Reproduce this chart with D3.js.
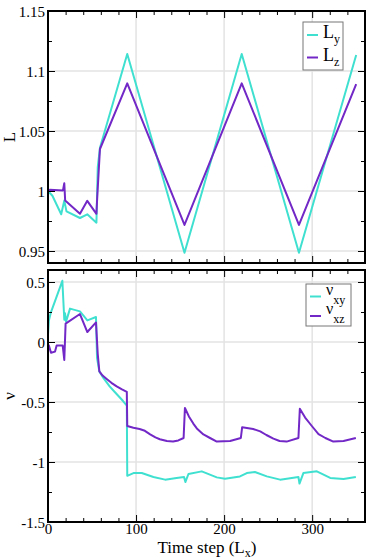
<!DOCTYPE html>
<html><head><meta charset="utf-8">
<script src="https://cdn.jsdelivr.net/npm/d3@7"></script>
<style>
html,body{margin:0;padding:0;background:#fff;}
svg{display:block;font-family:"Liberation Serif","Times New Roman",serif;}
</style></head>
<body><svg id="c" width="374" height="559"></svg>
<script>
// ---- data ----
const LyT  = [0,5,15,18.5,21,36.3,44.6,55,56.5,59,90,155,220,285,350];
const LyV  = [1.0,0.996,0.9806,0.992,0.983,0.9775,0.9806,0.9736,1.02,1.036,1.1142,0.9486,1.1142,0.9486,1.1133];
const LzT  = [0,2,17,18.5,19.5,36.3,44.6,55,56,59,90,155,220,285,350];
const LzV  = [1.0,1.001,1.0005,1.0065,0.992,0.981,0.9918,0.981,0.996,1.035,1.0897,0.9717,1.0897,0.9717,1.089];

const nuXYT = [0,1,3,16.3,18.5,19.3,20.5,25,36.3,44.7,54.5,55.7,58.3,62,66,70,75,80,85,89.5,90,97,106.5,119.7,133,146,154.5,156,159.5,174.6,191.7,201,218,225.8,235,248.5,263.6,284.4,285.6,290,305.3,320.5,335.6,349.6];
const nuXYV = [0.06,0.18,0.24,0.51,0.186,0.24,0.17,0.278,0.255,0.18,0.208,-0.133,-0.245,-0.29,-0.33,-0.37,-0.41,-0.45,-0.49,-0.53,-1.115,-1.092,-1.092,-1.125,-1.147,-1.133,-1.125,-1.167,-1.10,-1.078,-1.128,-1.14,-1.12,-1.092,-1.083,-1.12,-1.147,-1.125,-1.18,-1.092,-1.078,-1.133,-1.142,-1.125];
const nuXZT = [0,1,3.4,8,9.8,16.7,18.5,20,36.3,44.7,54.5,56.5,58.3,62,67,72,78,84,89.5,90,97,104,110,116,122,127,135,142,148,154,155.5,160,165,169,176.5,184,191.7,206.8,219,220.5,233,241,248,256,263,271,284.4,286,292,299.6,307.2,315,324,335.6,349.6];
const nuXZV = [-0.02,-0.03,-0.09,-0.08,-0.03,-0.03,-0.15,0.153,0.233,0.083,0.163,-0.1,-0.245,-0.28,-0.31,-0.34,-0.37,-0.395,-0.415,-0.70,-0.715,-0.725,-0.74,-0.77,-0.795,-0.81,-0.825,-0.83,-0.82,-0.80,-0.55,-0.62,-0.68,-0.72,-0.77,-0.80,-0.83,-0.825,-0.80,-0.71,-0.725,-0.745,-0.775,-0.805,-0.825,-0.83,-0.80,-0.556,-0.63,-0.70,-0.767,-0.80,-0.83,-0.825,-0.80];

const xMajor = [0,100,200,300];
const xMajorLabels = ["0","100","200","300"];
const xMinor = [20,40,60,80,120,140,160,180,220,240,260,280,320,340];
const topMajor = [0.95,1.0,1.05,1.1,1.15];
const topMajorLabels = ["0.95","1","1.05","1.1","1.15"];
const topMinor = [0.975,1.025,1.075,1.125];
const botMajor = [-1.5,-1.0,-0.5,0,0.5];
const botMajorLabels = ["-1.5","-1","-0.5","0","0.5"];
const botMinor = [-1.25,-0.75,-0.25,0.25];

const cTurq = "#40E0D0", cPurp = "#7228C6";

// ---- layout ----
const svg = d3.select("#c");
const L = 48, R = 365;
const x = d3.scaleLinear().domain([0,360]).range([L,R]);
const panels = [
  {top:11, bot:263, dom:[0.94,1.15], major:topMajor, labels:topMajorLabels, minor:topMinor,
   series:[{t:LyT,v:LyV,c:cTurq},{t:LzT,v:LzV,c:cPurp}], ylab:"L", xlabels:false},
  {top:270, bot:522, dom:[-1.5,0.6], major:botMajor, labels:botMajorLabels, minor:botMinor,
   series:[{t:nuXYT,v:nuXYV,c:cTurq},{t:nuXZT,v:nuXZV,c:cPurp}], ylab:"ν", xlabels:true}
];

panels.forEach(p => {
  const y = d3.scaleLinear().domain(p.dom).range([p.bot,p.top]);
  const g = svg.append("g");
  // grid
  g.selectAll(".gy").data(p.major).join("line")
    .attr("x1",L).attr("x2",R).attr("y1",d=>y(d)).attr("y2",d=>y(d))
    .attr("stroke","#e3e3e3").attr("stroke-width",1.5);
  g.selectAll(".gx").data(xMajor).join("line")
    .attr("x1",d=>x(d)).attr("x2",d=>x(d)).attr("y1",p.top).attr("y2",p.bot)
    .attr("stroke","#e3e3e3").attr("stroke-width",1.5);
  // series
  p.series.forEach(s => {
    const pts = s.t.map((t,i)=>[t,s.v[i]]);
    g.append("path").datum(pts)
      .attr("fill","none").attr("stroke",s.c).attr("stroke-width",2)
      .attr("stroke-linejoin","round")
      .attr("d", d3.line().x(d=>x(d[0])).y(d=>y(d[1])));
  });
  // axes: inward ticks
  const mk = (axisFn, scale, vals, size, fmt) =>
    axisFn(scale).tickValues(vals).tickSizeInner(-size).tickSizeOuter(0).tickFormat(fmt);
  const gl = g.append("g").attr("transform",`translate(${L},0)`)
    .call(mk(d3.axisLeft, y, p.major, 7, (d,i)=>p.labels[i]));
  g.append("g").attr("transform",`translate(${L},0)`).call(mk(d3.axisLeft, y, p.minor, 4, ""));
  g.append("g").attr("transform",`translate(${R},0)`).call(mk(d3.axisRight, y, p.major, 7, ""));
  g.append("g").attr("transform",`translate(${R},0)`).call(mk(d3.axisRight, y, p.minor, 4, ""));
  g.append("g").attr("transform",`translate(0,${p.top})`).call(mk(d3.axisTop, x, xMajor, 7, ""));
  g.append("g").attr("transform",`translate(0,${p.top})`).call(mk(d3.axisTop, x, xMinor, 4, ""));
  const gb = g.append("g").attr("transform",`translate(0,${p.bot})`)
    .call(mk(d3.axisBottom, x, xMajor, 7, p.xlabels ? (d,i)=>xMajorLabels[i] : ""));
  g.append("g").attr("transform",`translate(0,${p.bot})`).call(mk(d3.axisBottom, x, xMinor, 4, ""));
  g.selectAll(".domain").remove();
  g.selectAll(".tick line").attr("stroke","#000").attr("stroke-width",1);
  g.selectAll(".tick text").attr("font-family","Liberation Serif, serif").attr("font-size",15).attr("fill","#000");
  gl.selectAll(".tick text").attr("x",-3).attr("dy","0.35em");
  gb.selectAll(".tick text").attr("y",1).attr("dy","0.71em");
  // frame
  g.append("rect").attr("x",L).attr("y",p.top).attr("width",R-L).attr("height",p.bot-p.top)
    .attr("fill","none").attr("stroke","#000").attr("stroke-width",2);
  // y title
  g.append("text").attr("transform",`translate(15,${(p.top+p.bot)/2}) rotate(-90)`)
    .attr("text-anchor","middle").attr("font-size",17).text(p.ylab);
});

// x title
const xt = svg.append("text").attr("x",207).attr("y",553).attr("text-anchor","middle").attr("font-size",17);
xt.append("tspan").text("Time step (L");
xt.append("tspan").attr("font-size",12).attr("dy",4).text("x");
xt.append("tspan").attr("dy",-4).text(")");

// legends
function legend(bx,by,bw,bh,fs,ss,items){
  const g = svg.append("g");
  g.append("rect").attr("x",bx).attr("y",by).attr("width",bw).attr("height",bh)
    .attr("fill","#fff").attr("stroke","#777").attr("stroke-width",1);
  items.forEach(it=>{
    g.append("line").attr("x1",bx+4).attr("x2",bx+15).attr("y1",it.ly).attr("y2",it.ly)
      .attr("stroke",it.c).attr("stroke-width",2);
    const t = g.append("text").attr("x",bx+20).attr("y",it.base).attr("font-size",fs);
    t.append("tspan").text(it.main);
    t.append("tspan").attr("font-size",ss).attr("dy",it.sdy).text(it.sub);
  });
}
legend(303,22,40,48,18,12,[
  {ly:35,base:38,main:"L",sub:"y",c:cTurq,sdy:5},
  {ly:57.5,base:61,main:"L",sub:"z",c:cPurp,sdy:5}
]);
legend(306,284,45,42,16,12,[
  {ly:296.5,base:294.5,main:"ν",sub:"xy",c:cTurq,sdy:9},
  {ly:316,base:314,main:"ν",sub:"xz",c:cPurp,sdy:9}
]);
</script></body></html>
